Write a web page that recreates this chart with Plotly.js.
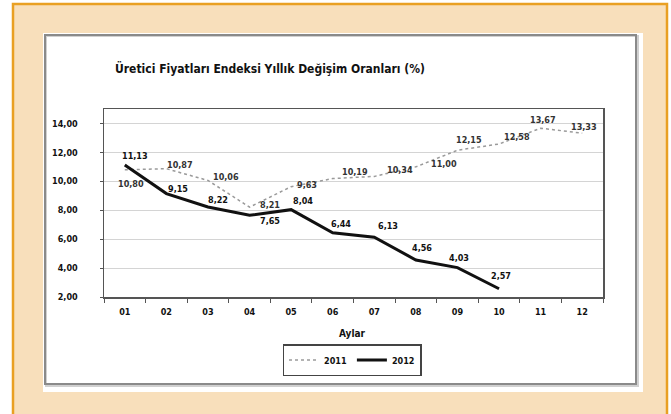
<!DOCTYPE html>
<html>
<head>
<meta charset="utf-8">
<script src="https://cdn.plot.ly/plotly-3.0.1.min.js"></script>
<style>html,body{margin:0;padding:0;background:#fff;}#chart{width:671px;height:414px;}</style>
</head>
<body>
<div id="chart"></div>
<script>
const months = ['01','02','03','04','05','06','07','08','09','10','11','12'];
const values2011 = [10.80, 10.87, 10.06, 8.21, 9.63, 10.19, 10.34, 11.00, 12.15, 12.58, 13.67, 13.33];
const months2012 = ['01','02','03','04','05','06','07','08','09','10'];
const values2012 = [11.13, 9.15, 8.22, 7.65, 8.04, 6.44, 6.13, 4.56, 4.03, 2.57];
const yTicks = [2, 4, 6, 8, 10, 12, 14];
const titleText = 'Üretici Fiyatları Endeksi Yıllık Değişim Oranları (%)';

// label offsets (pixels) — style only
const off2011 = [[6,14],[14,-4],[18,-3],[20,-2],[16,-2],[22,-7],[26,-6],[28,-3],[12,-10],[18,-7],[2,-8],[2,-6]];
const off2012 = [[10,-9],[12,-5],[10,-7],[20,6],[12,-9],[8,-9],[14,-11],[6,-12],[2,-10],[2,-13]];

const FONT = 'Liberation Sans Narrow, Arial Narrow, DejaVu Sans Condensed, Arial, sans-serif';
const W = 671, H = 414, ML = 104, MR = 68, MT = 109, MB = 117;
const PW = W - ML - MR, PH = H - MT - MB;
const X = px => (px - ML) / PW;
const Y = py => (H - MB - py) / PH;
const fmt = v => v.toFixed(2).replace('.', ',');

const traces = [
  {x: months, y: values2011, name: '2011', type: 'scatter', mode: 'lines',
   line: {color: '#9a9a9a', width: 1.5, dash: 'dot'}},
  {x: months2012, y: values2012, name: '2012', type: 'scatter', mode: 'lines',
   line: {color: '#111111', width: 3}}
];

const annotations = [];
values2011.forEach((v, i) => annotations.push({
  x: months.indexOf(months[i]), y: v, xref: 'x', yref: 'y', text: '<b>' + fmt(v) + '</b>', showarrow: false,
  xshift: off2011[i][0], yshift: -off2011[i][1],
  font: {family: FONT, size: 9, color: '#333'}
}));
values2012.forEach((v, i) => annotations.push({
  x: months.indexOf(months2012[i]), y: v, xref: 'x', yref: 'y', text: '<b>' + fmt(v) + '</b>', showarrow: false,
  xshift: off2012[i][0], yshift: -off2012[i][1],
  font: {family: FONT, size: 9, color: '#111'}
}));
annotations.push({xref: 'paper', yref: 'paper', x: X(113), y: Y(69), xanchor: 'left', yanchor: 'middle',
  text: '<b>' + titleText + '</b>', showarrow: false, font: {family: FONT, size: 12, color: '#111'}});
annotations.push({xref: 'paper', yref: 'paper', x: X(352), y: Y(333), xanchor: 'center', yanchor: 'middle',
  text: '<b>Aylar</b>', showarrow: false, font: {family: FONT, size: 10, color: '#111'}});

const shapes = [
  {type: 'rect', xref: 'paper', yref: 'paper', x0: X(13), x1: X(667), y0: Y(430), y1: Y(4),
   fillcolor: '#F8DFBB', line: {color: '#E9A023', width: 2.5}, layer: 'below'},
  {type: 'rect', xref: 'paper', yref: 'paper', x0: X(43), x1: X(643), y0: Y(392), y1: Y(33),
   fillcolor: '#ffffff', line: {width: 0}, layer: 'below'},
  {type: 'rect', xref: 'paper', yref: 'paper', x0: X(46), x1: X(638), y0: Y(386), y1: Y(36),
   fillcolor: 'rgba(0,0,0,0)', line: {color: '#d0d0d0', width: 2}, layer: 'below'},
  {type: 'rect', xref: 'paper', yref: 'paper', x0: X(45), x1: X(636), y0: Y(384), y1: Y(35),
   fillcolor: 'rgba(0,0,0,0)', line: {color: '#8a8a8a', width: 2}, layer: 'below'}
];

const layout = {
  width: W, height: H,
  margin: {l: ML, r: MR, t: MT, b: MB, pad: 0},
  paper_bgcolor: '#ffffff', plot_bgcolor: 'rgba(0,0,0,0)',
  separators: ',.',
  font: {family: FONT, size: 9, color: '#111'},
  showlegend: true,
  legend: {orientation: 'h', x: X(352), xanchor: 'center', y: Y(344), yanchor: 'top',
    bordercolor: '#444', borderwidth: 1.5, bgcolor: '#fff',
    font: {family: FONT, size: 9, color: '#111', weight: 'bold'},
    itemwidth: 30, tracegroupgap: 0},
  xaxis: {type: 'category', categoryorder: 'array', categoryarray: months,
    range: [-0.5, 11.5], showgrid: false, zeroline: false,
    showline: true, linecolor: '#555', linewidth: 1.5, mirror: true,
    ticks: 'outside', tickson: 'boundaries', ticklen: 4, tickcolor: '#555',
    ticklabelstandoff: 6,
    tickfont: {family: FONT, size: 9, color: '#111', weight: 'bold'}},
  yaxis: {range: [2, 15], tickvals: yTicks, tickformat: '.2f',
    showgrid: true, gridcolor: '#d4d4d4', gridwidth: 1, zeroline: false,
    showline: true, linecolor: '#555', linewidth: 1.5, mirror: true,
    ticks: 'outside', ticklen: 3, tickcolor: '#555', ticklabelstandoff: 20,
    tickfont: {family: FONT, size: 9, color: '#111', weight: 'bold'}},
  annotations: annotations,
  shapes: shapes
};

Plotly.newPlot('chart', traces, layout, {displayModeBar: false, staticPlot: true});
</script>
</body>
</html>
